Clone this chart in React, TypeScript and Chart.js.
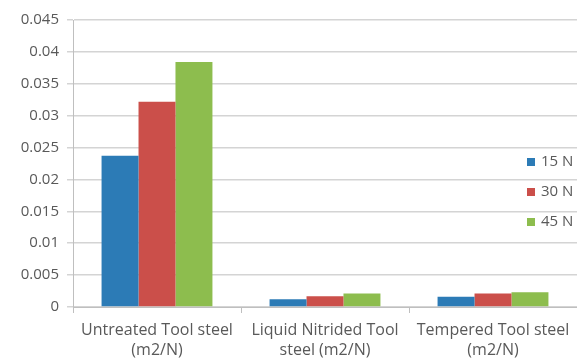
import React, { useEffect, useRef } from "react";
import { Chart, registerables } from "chart.js";

Chart.register(...registerables);

const categories: string[][] = [
  ["Untreated Tool steel", "(m2/N)"],
  ["Liquid Nitrided Tool", "steel (m2/N)"],
  ["Tempered Tool steel", "(m2/N)"],
];
const seriesNames = ["15 N", "30 N", "45 N"];
const load15 = [0.0237, 0.0012, 0.0016];
const load30 = [0.0322, 0.0017, 0.0021];
const load45 = [0.0384, 0.0021, 0.0023];
const yTickLabels = ["0", "0.005", "0.01", "0.015", "0.02", "0.025", "0.03", "0.035", "0.04", "0.045"];

const colors = ["#2C7BB6", "#CB4F4A", "#8DBD4E"];
const FONT = "'Open Sans', sans-serif";
const TEXT = "#595959";

// Vertical legend drawn over the right side of the plot
const sideLegend = {
  id: "sideLegend",
  afterDraw(chart: any) {
    const { ctx, chartArea } = chart;
    ctx.save();
    ctx.font = `15px ${FONT}`;
    ctx.textBaseline = "middle";
    chart.data.datasets.forEach((ds: any, i: number) => {
      const x = chartArea.right - 50;
      const y = chartArea.top + 142 + i * 30;
      ctx.fillStyle = ds.backgroundColor;
      ctx.fillRect(x, y - 4, 8, 8);
      ctx.fillStyle = TEXT;
      ctx.fillText(ds.label, x + 14, y);
    });
    ctx.restore();
  },
};

export default function App() {
  const ref = useRef<HTMLCanvasElement>(null);

  useEffect(() => {
    if (!ref.current) return;
    const chart = new Chart(ref.current, {
      type: "bar",
      data: {
        labels: categories,
        datasets: [load15, load30, load45].map((d, i) => ({
          label: seriesNames[i],
          data: d,
          backgroundColor: colors[i],
          categoryPercentage: 0.66,
          barPercentage: 1,
        })),
      },
      options: {
        animation: false,
        responsive: false,
        maintainAspectRatio: false,
        layout: { padding: { top: 20, right: 0, left: 0, bottom: 0 } },
        plugins: { legend: { display: false }, tooltip: { enabled: false } },
        scales: {
          x: {
            grid: {
              drawOnChartArea: false,
              drawTicks: true,
              tickLength: 6,
              color: "#bfbfbf",
            },
            border: { color: "#bfbfbf" },
            ticks: {
              color: TEXT,
              font: { family: FONT, size: 16, lineHeight: 1.25 },
              maxRotation: 0,
              autoSkip: false,
              padding: 7,
            },
            afterFit(scale: any) {
              scale.height = 51;
            },
          },
          y: {
            min: 0,
            max: 0.045,
            ticks: {
              stepSize: 0.005,
              color: TEXT,
              font: { family: FONT, size: 15 },
              padding: 8,
              callback: (_v: any, i: number) => yTickLabels[i],
            },
            grid: { color: "#d4d4d4", tickLength: 6, lineWidth: 1.5 },
            border: { color: "#bfbfbf" },
            afterFit(scale: any) {
              scale.width = 73;
            },
          },
        },
      },
      plugins: [sideLegend],
    });
    return () => chart.destroy();
  }, []);

  return (
    <div style={{ position: "absolute", left: 0, top: 0, width: 577, height: 358, background: "#fff" }}>
      <canvas ref={ref} width={577} height={358} />
    </div>
  );
}
